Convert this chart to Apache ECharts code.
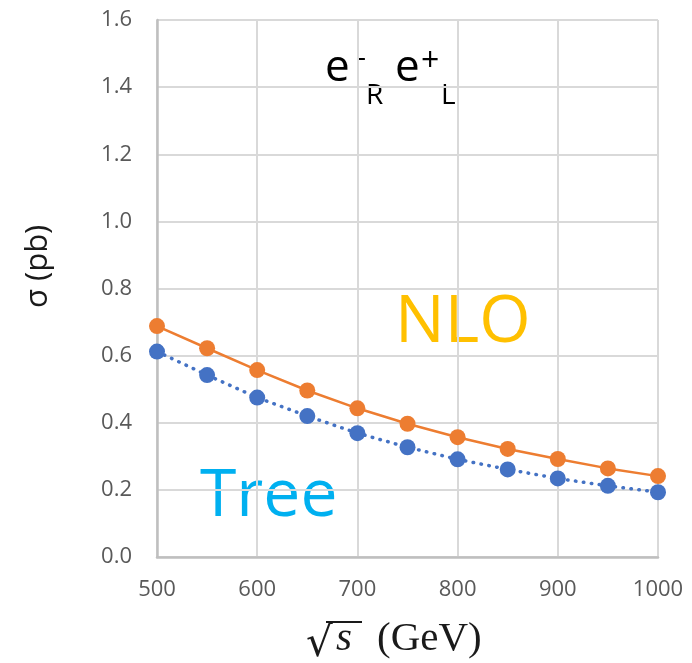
<!DOCTYPE html>
<html>
<head>
<meta charset="utf-8">
<script src="https://cdn.jsdelivr.net/npm/echarts@6/dist/echarts.min.js"></script>
<style>
  html, body { margin: 0; padding: 0; background: #ffffff; }
  #chart { width: 692px; height: 663px; }
</style>
</head>
<body>
<div id="chart"></div>
<script>
// Centre-of-mass energy sqrt(s) in GeV
const energies = [500, 550, 600, 650, 700, 750, 800, 850, 900, 950, 1000];
// Cross sections in pb for e-_R e+_L
const sigmaNLO  = [0.688, 0.622, 0.557, 0.496, 0.443, 0.397, 0.357, 0.322, 0.292, 0.264, 0.241];
const sigmaTree = [0.612, 0.542, 0.475, 0.420, 0.369, 0.327, 0.291, 0.261, 0.234, 0.212, 0.193];

const xTicks = { min: 500, max: 1000, step: 100 };
const yTicks = { min: 0, max: 1.6, step: 0.2 };

const pairs = (xs, ys) => xs.map((x, i) => [x, ys[i]]);

const labelFont = '"Open Sans", sans-serif';
const chart = echarts.init(document.getElementById('chart'), null, { renderer: 'canvas' });

const txt = (text, x, y, font, fill, extra) => Object.assign({
  type: 'text', x: x, y: y,
  style: { text: text, font: font, fill: fill, verticalAlign: 'middle', align: 'left' }
}, extra || {});

chart.setOption({
  animation: false,
  backgroundColor: '#ffffff',
  grid: { left: 157, right: 34, top: 20, bottom: 106, containLabel: false },
  xAxis: {
    type: 'value',
    min: xTicks.min, max: xTicks.max, interval: xTicks.step,
    axisLine: { show: true, lineStyle: { color: '#BFBFBF', width: 2.5 } },
    axisTick: { show: false },
    axisLabel: {
      color: '#595959', fontSize: 22, fontFamily: labelFont, margin: 22,
      formatter: v => String(v)
    },
    splitLine: { show: true, lineStyle: { color: '#D9D9D9', width: 2 } }
  },
  yAxis: {
    type: 'value',
    min: yTicks.min, max: yTicks.max, interval: yTicks.step,
    axisLine: { show: true, lineStyle: { color: '#BFBFBF', width: 2.5 } },
    axisTick: { show: false },
    axisLabel: {
      color: '#595959', fontSize: 22, fontFamily: labelFont, margin: 25,
      formatter: v => v.toFixed(1)
    },
    splitLine: { show: true, lineStyle: { color: '#D9D9D9', width: 2 } }
  },
  series: [
    {
      name: 'Tree',
      type: 'line',
      data: pairs(energies, sigmaTree),
      symbol: 'circle',
      symbolSize: 16,
      itemStyle: { color: '#4472C4' },
      lineStyle: { color: '#4472C4', width: 3.5, type: [0.5, 7.5], cap: 'round' },
      z: 3
    },
    {
      name: 'NLO',
      type: 'line',
      data: pairs(energies, sigmaNLO),
      symbol: 'circle',
      symbolSize: 16,
      itemStyle: { color: '#ED7D31' },
      lineStyle: { color: '#ED7D31', width: 2.5 },
      z: 4
    }
  ],
  graphic: [
    // process label e-_R e+_L
    txt('e', 325, 68, '44px "Open Sans"', '#000'),
    txt('-', 357, 58, '28px "Open Sans"', '#000'),
    txt('R', 366, 96, '28px "Open Sans"', '#000'),
    txt('e', 395, 68, '44px "Open Sans"', '#000'),
    txt('+', 421, 62, '32px "Open Sans"', '#000'),
    txt('L', 441, 96, '28px "Open Sans"', '#000'),
    // curve labels
    txt('NLO', 395, 323, '66px "Open Sans"', '#FFC000'),
    txt('Tree', 200, 497, '66px "Open Sans"', '#00B0F0'),
    // y-axis title
    txt('σ (pb)', 38, 308, '31px "Open Sans"', '#1a1a1a', { rotation: Math.PI / 2 }),
    // x-axis title: sqrt(s) (GeV)
    txt('√', 306, 645, '42px "DejaVu Serif"', '#1a1a1a'),
    txt('s', 336, 639, 'italic 41px "Liberation Serif"', '#1a1a1a'),
    txt('(GeV)', 377, 639, '41px "Liberation Serif"', '#1a1a1a'),
    // radical overbar
    { type: 'line', shape: { x1: 326, y1: 622, x2: 362, y2: 622 }, style: { stroke: '#1a1a1a', lineWidth: 2 } }
  ]
});
</script>
</body>
</html>
